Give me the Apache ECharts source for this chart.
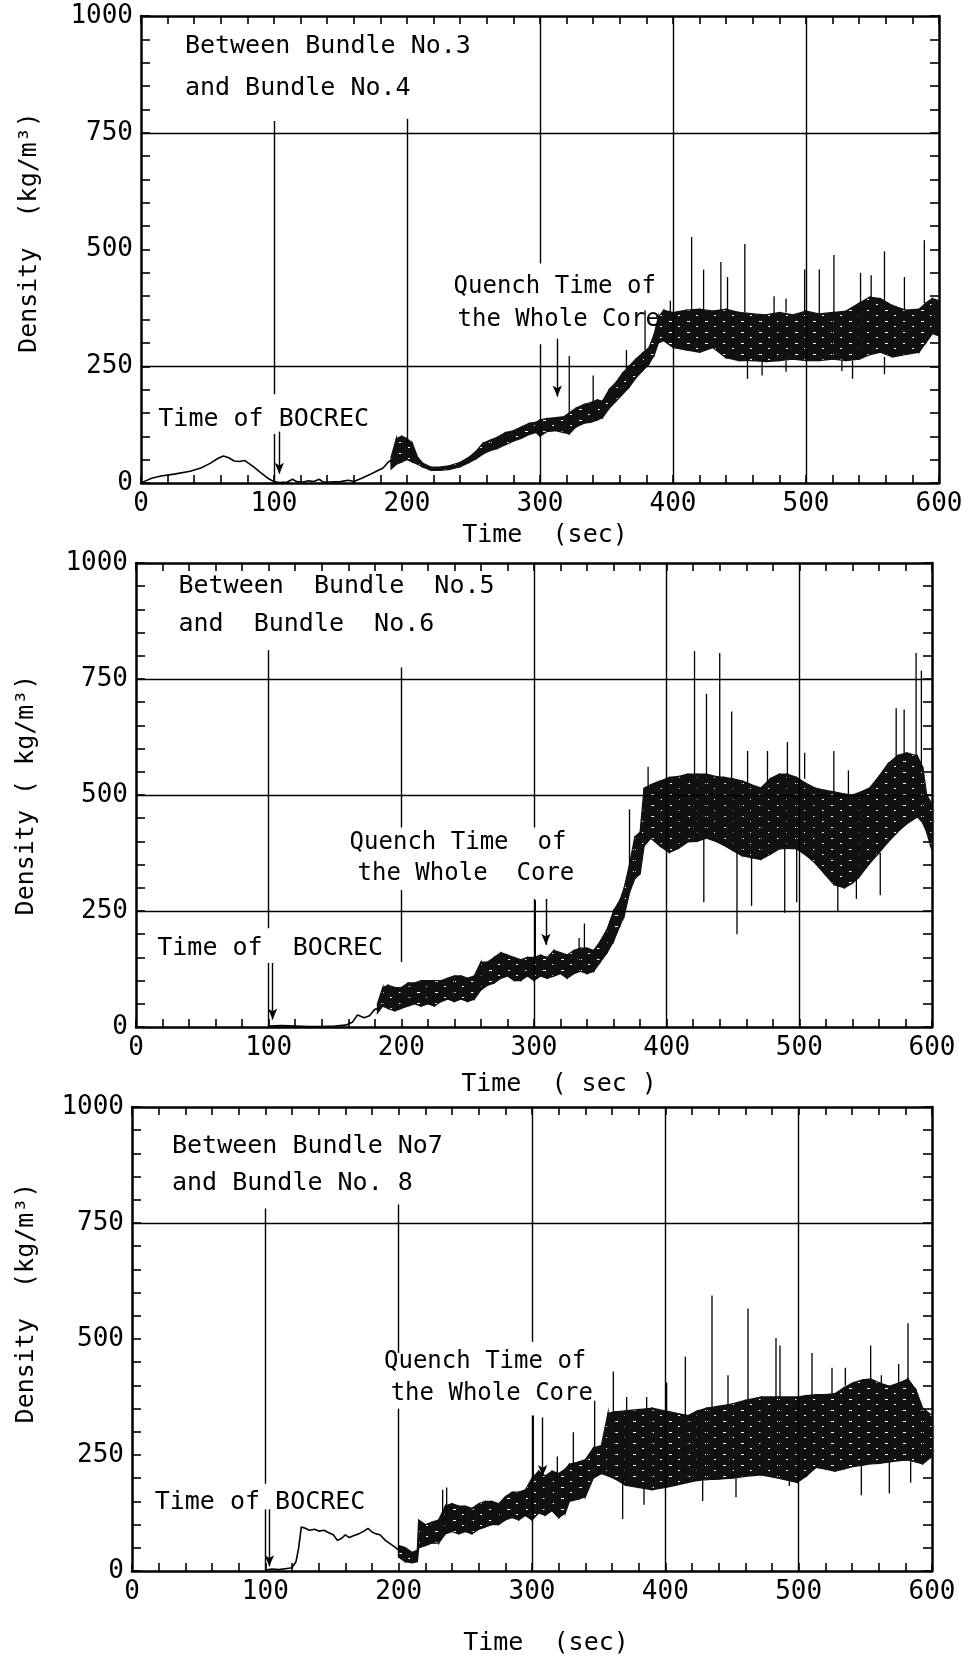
<!DOCTYPE html>
<html>
<head>
<meta charset="utf-8">
<script src="https://cdn.jsdelivr.net/npm/echarts@6/dist/echarts.min.js"></script>
<style>
  html, body { margin: 0; padding: 0; background: #fff; }
  #chart { width: 968px; height: 1665px; }
</style>
</head>
<body>
<div id="chart"></div>
<script>
// ---- Axis ticks ----
var timeTicks = [0, 100, 200, 300, 400, 500, 600];
var densityTicks = [0, 250, 500, 750, 1000];

// ---- Panel 1: between bundle No.3 and No.4 ----
// quiet part of the trace [time s, density kg/m3]
var trace1 = [[0,0],[3,4],[8,10],[15,15],[25,19],[37,25],[45,32],[52,42],[58,53],[62,58],[66,54],[70,47],[74,46],[78,48],[84,36],[90,22],[96,9],[100,3],[104,1],[110,2],[114,8],[117,3],[122,2],[126,5],[130,3],[134,8],[137,2],[142,2],[150,3],[156,6],[160,3],[166,10],[172,18],[177,25],[182,32],[186,45],[189,50]];
// oscillating part: [time, lower envelope, upper envelope]
var band1 = [[188,30,55],[192,40,95],[196,45,100],[200,50,95],[204,45,85],[208,40,55],[212,34,42],[218,27,34],[225,27,34],[232,29,37],[240,35,44],[247,44,56],[252,52,68],[257,62,85],[263,70,92],[268,74,98],[274,82,108],[280,90,112],[286,96,120],[292,104,128],[297,108,130],[300,100,135],[305,110,138],[312,112,140],[318,108,142],[322,105,150],[327,120,160],[333,128,168],[338,130,172],[343,135,178],[347,140,175],[352,160,200],[357,175,215],[362,190,235],[367,205,250],[372,225,265],[377,240,278],[382,255,290],[386,275,320],[389,300,355],[393,305,370],[400,290,365],[410,285,370],[420,280,372],[430,290,368],[440,268,372],[450,262,365],[460,262,362],[470,260,360],[480,262,365],[490,265,360],[500,262,368],[510,262,362],[520,265,365],[530,262,368],[540,265,385],[548,275,398],[556,280,395],[565,270,380],[575,275,370],[585,280,372],[590,300,385],[595,320,395],[600,315,390]];
// spikes: [time, from, to]
var spikes1 = [[322,150,272],[340,170,230],[365,245,285],[379,285,370],[398,365,390],[414,370,527],[423,370,457],[436,370,473],[441,370,441],[454,365,512],[476,360,400],[485,365,395],[499,368,457],[510,362,457],[521,365,488],[541,385,450],[549,398,445],[559,390,496],[574,370,441],[589,385,520],[456,262,223],[467,260,230],[485,262,238],[527,262,240],[535,262,223],[559,270,233]];
var hLines1 = [250, 750];
var vLines1 = [[100,775,190],[100,105,0],[200,780,85],[300,1000,470],[300,297,0],[400,1000,0],[500,1000,0]];
var arrows1 = [[104,110,20],[313,309,185]];
var notes1 = [[33,935,'Between Bundle No.3'],[33,845,'and Bundle No.4'],[13,135,'Time of BOCREC'],[235,420,'Quench Time of'],[238,349,'the Whole Core']];

// ---- Panel 2: between bundle No.5 and No.6 ----
var trace2 = [[100,2],[110,3],[120,2],[130,1],[140,1],[150,2],[158,4],[163,10],[167,26],[172,20],[176,24],[180,38],[183,40]];
var band2 = [[182,30,50],[186,45,85],[190,40,90],[195,35,85],[200,40,85],[205,45,95],[210,50,95],[215,45,100],[220,50,100],[225,45,100],[230,55,100],[235,60,105],[240,55,110],[245,60,110],[250,55,105],[255,60,110],[260,80,140],[265,90,140],[270,95,150],[275,105,160],[280,110,155],[285,100,150],[290,100,145],[295,110,150],[300,100,150],[305,110,155],[310,105,150],[315,110,165],[320,115,160],[325,105,155],[330,115,165],[335,120,170],[340,115,170],[345,120,165],[350,140,185],[355,160,210],[360,185,250],[365,220,275],[368,240,300],[372,290,350],[376,320,410],[380,330,420],[383,390,515],[388,407,522],[395,390,530],[402,376,538],[409,385,540],[416,399,545],[423,400,545],[430,407,545],[437,400,540],[443,392,538],[450,380,535],[457,369,530],[464,365,522],[471,361,515],[478,372,535],[485,384,545],[491,385,545],[498,384,538],[505,370,525],[512,353,515],[519,330,510],[526,307,507],[534,300,502],[540,310,500],[545,323,505],[553,353,515],[560,375,540],[567,399,568],[574,420,585],[581,438,591],[589,453,584],[593,440,560],[596,420,500],[600,380,480]];
var spikes2 = [[301,150,273],[334,170,192],[338,170,223],[372,350,469],[386,520,561],[421,545,810],[430,545,718],[440,540,806],[449,535,680],[461,525,595],[476,525,595],[491,545,614],[504,535,591],[526,507,595],[537,502,553],[573,580,687],[579,590,684],[588,584,806],[592,560,768],[428,407,269],[453,380,200],[464,365,261],[489,384,246],[498,384,269],[529,307,250],[543,320,276],[561,375,284]];
var hLines2 = [250, 500, 750];
var vLines2 = [[100,812,213],[100,138,0],[200,775,430],[200,295,140],[300,1000,430],[300,276,0],[400,1000,0],[500,1000,0]];
var arrows2 = [[103,138,16],[309,276,177]];
var notes2 = [[32,950,'Between  Bundle  No.5'],[32,867,'and  Bundle  No.6'],[16,170,'Time of  BOCREC'],[161,396,'Quench Time  of'],[167,330,'the Whole  Core']];

// ---- Panel 3: between bundle No.7 and No.8 ----
var trace3 = [[100,2],[105,4],[110,3],[115,5],[120,7],[123,20],[125,50],[127,95],[130,92],[133,88],[137,90],[140,86],[144,88],[148,82],[151,78],[154,66],[157,70],[160,78],[163,72],[166,76],[170,80],[174,86],[177,92],[180,84],[183,80],[186,78],[190,66],[194,58],[197,52],[200,45]];
var band3 = [[200,30,55],[205,20,50],[210,18,40],[214,20,45],[215,50,110],[220,55,100],[225,60,105],[230,60,110],[235,80,140],[240,85,145],[245,80,140],[250,85,140],[255,80,135],[260,90,145],[265,95,150],[270,100,150],[275,100,145],[280,110,160],[285,115,170],[290,110,170],[295,120,175],[300,110,200],[305,125,215],[310,120,205],[315,130,215],[320,115,210],[325,125,220],[328,150,230],[335,155,235],[340,160,240],[346,200,265],[352,210,270],[357,205,340],[362,199,343],[370,185,345],[380,180,348],[390,175,351],[400,180,345],[408,185,340],[417,191,335],[424,195,345],[431,197,351],[440,198,355],[450,200,360],[460,204,368],[472,207,375],[485,200,375],[499,191,375],[506,205,378],[513,223,380],[520,220,380],[527,215,382],[534,220,395],[541,225,406],[548,228,412],[554,231,414],[561,232,405],[568,235,398],[575,238,405],[582,239,414],[588,235,390],[593,231,351],[600,247,335]];
var spikes3 = [[233,105,175],[236,110,180],[301,200,335],[319,210,247],[331,225,299],[347,265,367],[361,343,430],[371,345,375],[386,350,375],[401,345,406],[415,335,462],[435,350,594],[447,358,422],[462,368,566],[483,375,502],[486,375,486],[510,378,470],[525,382,438],[535,400,438],[554,414,486],[562,405,422],[575,405,446],[582,414,534],[368,199,112],[384,180,143],[428,195,151],[453,200,159],[493,195,183],[547,228,163],[568,235,167],[584,239,191]];
var hLines3 = [750];
var vLines3 = [[100,781,188],[100,133,0],[200,790,470],[200,350,30],[300,1000,494],[300,335,0],[400,1000,0],[500,1000,0]];
var arrows3 = [[103,133,10],[308,331,205]];
var notes3 = [[30,914,'Between Bundle No7'],[30,836,'and Bundle No. 8'],[17,148,'Time of BOCREC'],[189,450,'Quench Time of'],[194,382,'the Whole Core']];

// ---- Layout and styling ----
var FONT = '"DejaVu Sans Mono", monospace';
var INK = '#000';
var BAND = '#111';
var panels = [
  { grid: {left: 141, right: 29, top: 16, height: 467}, trace: trace1, band: band1, spikes: spikes1, h: hLines1, v: vLines1, arrows: arrows1, notes: notes1,
    yName: 'Density  (kg/m³)', yGap: 99, yPad: 34, xName: 'Time  (sec)', xGap: 40, xPad: 10 },
  { grid: {left: 136, right: 36, top: 563, height: 464}, trace: trace2, band: band2, spikes: spikes2, h: hLines2, v: vLines2, arrows: arrows2, notes: notes2,
    yName: 'Density ( kg/m³)', yGap: 97, yPad: 0, xName: 'Time  ( sec )', xGap: 45, xPad: 50 },
  { grid: {left: 132, right: 36, top: 1107, height: 464}, trace: trace3, band: band3, spikes: spikes3, h: hLines3, v: vLines3, arrows: arrows3, notes: notes3,
    yName: 'Density  (kg/m³)', yGap: 93, yPad: 72, xName: 'Time  (sec)', xGap: 60, xPad: 28 }
];

// sparse speckle texture so the oscillation band reads like a dense recorder trace
var tex = document.createElement('canvas');
tex.width = 18; tex.height = 11;
(function () {
  var c = tex.getContext('2d');
  c.fillStyle = BAND; c.fillRect(0, 0, 18, 11);
  c.fillStyle = '#fff';
  c.fillRect(3, 2, 3, 1);
  c.fillRect(12, 7, 2, 1);
})();

function noteFont(text) {
  return (/^Quench|^the Whole/.test(text) ? '24px ' : '25px ') + FONT;
}

function frameAxis(kind, gi, pos, showLabels, p) {
  var isX = kind === 'x';
  var ticks = isX ? timeTicks : densityTicks;
  var ax = {
    type: 'value', gridIndex: gi, position: pos,
    min: ticks[0], max: ticks[ticks.length - 1], interval: ticks[1] - ticks[0],
    axisLine: { show: true, onZero: false, lineStyle: { color: INK, width: 2.5 } },
    axisTick: { show: true, inside: true, length: isX ? 8 : 9, lineStyle: { color: INK, width: 1.6 } },
    minorTick: { show: true, splitNumber: 5, length: isX ? 8 : 9, lineStyle: { color: INK, width: 1.6 } },
    splitLine: { show: false },
    minorSplitLine: { show: false },
    axisLabel: { show: showLabels, color: INK, fontFamily: FONT, fontSize: 26, margin: 8,
      formatter: function (v) { return String(v); } }
  };
  if (showLabels) {
    ax.name = isX ? p.xName : p.yName;
    ax.nameLocation = 'middle';
    ax.nameGap = isX ? p.xGap : p.yGap;
    ax.nameTextStyle = { color: INK, fontFamily: FONT, fontSize: 25, padding: [0, 0, 0, isX ? p.xPad : p.yPad] };
  }
  return ax;
}

var option = { animation: false, backgroundColor: '#fff', grid: [], xAxis: [], yAxis: [], series: [] };

panels.forEach(function (p, i) {
  option.grid.push(p.grid);
  var xb = option.xAxis.length;
  option.xAxis.push(frameAxis('x', i, 'bottom', true, p));
  option.xAxis.push(frameAxis('x', i, 'top', false, p));
  var yl = option.yAxis.length;
  option.yAxis.push(frameAxis('y', i, 'left', true, p));
  option.yAxis.push(frameAxis('y', i, 'right', false, p));

  // reference lines: full-width density lines and partial time lines
  var ml = p.h.map(function (y) { return { yAxis: y }; });
  p.v.forEach(function (s) { ml.push([{ coord: [s[0], s[1]] }, { coord: [s[0], s[2]] }]); });

  // quiet trace
  option.series.push({
    type: 'line', xAxisIndex: xb, yAxisIndex: yl, data: p.trace,
    showSymbol: false, symbol: 'none', silent: true,
    lineStyle: { color: INK, width: 1.6 },
    markLine: { silent: true, symbol: ['none', 'none'], label: { show: false },
      lineStyle: { color: INK, type: 'solid', width: 1.4 }, emphasis: { disabled: true }, data: ml }
  });

  // oscillation band
  var rows = p.band;
  option.series.push({
    type: 'custom', xAxisIndex: xb, yAxisIndex: yl, silent: true,
    data: rows, encode: { x: 0, y: [1, 2] },
    renderItem: function (params, api) {
      var k = params.dataIndex;
      if (k >= rows.length - 1) return null;
      var a = rows[k], b = rows[k + 1];
      var pts = [api.coord([a[0], a[1]]), api.coord([a[0], a[2]]), api.coord([b[0], b[2]]), api.coord([b[0], b[1]])];
      return { type: 'polygon', shape: { points: pts },
        style: { fill: { image: tex, repeat: 'repeat' }, stroke: BAND, lineWidth: 1.3 } };
    },
    markLine: { silent: true, symbol: ['none', 'arrow'], symbolSize: [7, 11], label: { show: false },
      lineStyle: { color: INK, type: 'solid', width: 1.4 }, emphasis: { disabled: true },
      data: p.arrows.map(function (a) { return [{ coord: [a[0], a[1]] }, { coord: [a[0], a[2]] }]; }) }
  });

  // spikes
  option.series.push({
    type: 'custom', xAxisIndex: xb, yAxisIndex: yl, silent: true,
    data: p.spikes, encode: { x: 0, y: [1, 2] },
    renderItem: function (params, api) {
      var t = api.value(0);
      var p1 = api.coord([t, api.value(1)]);
      var p2 = api.coord([t, api.value(2)]);
      return { type: 'line', shape: { x1: p1[0], y1: p1[1], x2: p2[0], y2: p2[1] }, style: { stroke: INK, lineWidth: 1.3 } };
    }
  });

  // annotations
  var notes = p.notes;
  option.series.push({
    type: 'custom', xAxisIndex: xb, yAxisIndex: yl, silent: true, clip: false,
    data: notes.map(function (n) { return [n[0], n[1]]; }), encode: { x: 0, y: 1 },
    renderItem: function (params, api) {
      var pt = api.coord([api.value(0), api.value(1)]);
      var txt = notes[params.dataIndex][2];
      return { type: 'text', x: pt[0], y: pt[1],
        style: { text: txt, font: noteFont(txt), fill: INK, align: 'left', verticalAlign: 'middle' } };
    }
  });
});

var chart = echarts.init(document.getElementById('chart'), null, { renderer: 'canvas' });
chart.setOption(option);
</script>
</body>
</html>
